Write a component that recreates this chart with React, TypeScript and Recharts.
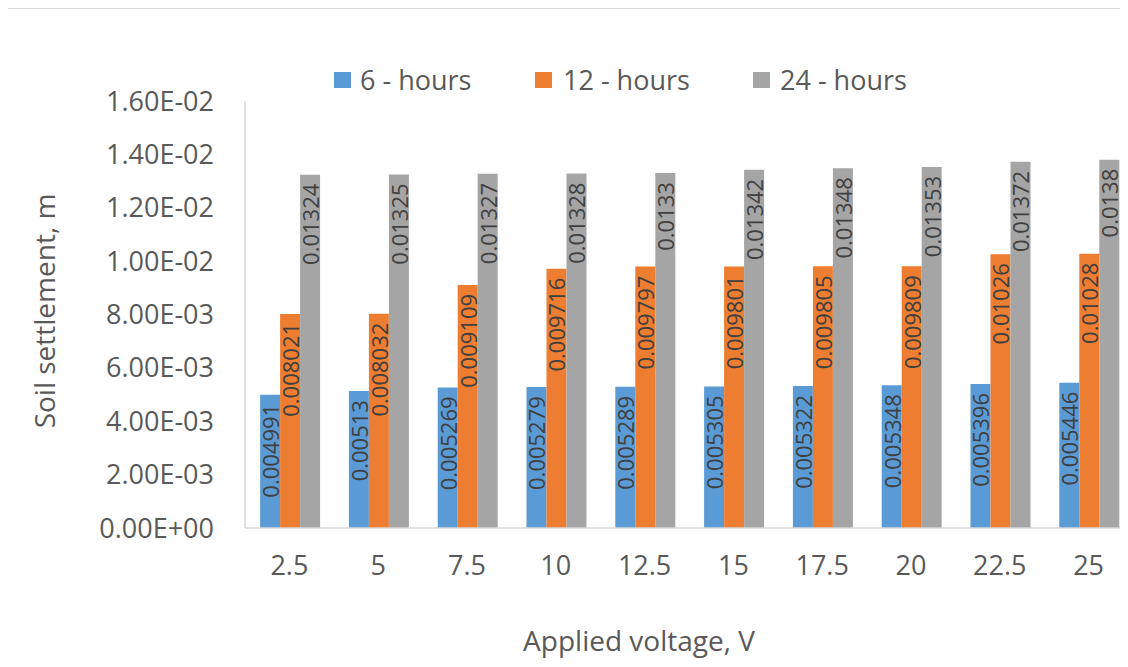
import React from "react";
import { BarChart, Bar, XAxis, YAxis, LabelList, Label } from "recharts";

const categories = ["2.5", "5", "7.5", "10", "12.5", "15", "17.5", "20", "22.5", "25"];
const hours6 = [0.004991, 0.00513, 0.005269, 0.005279, 0.005289, 0.005305, 0.005322, 0.005348, 0.005396, 0.005446];
const hours12 = [0.008021, 0.008032, 0.009109, 0.009716, 0.009797, 0.009801, 0.009805, 0.009809, 0.01026, 0.01028];
const hours24 = [0.01324, 0.01325, 0.01327, 0.01328, 0.0133, 0.01342, 0.01348, 0.01353, 0.01372, 0.0138];
const yTicks = [0, 0.002, 0.004, 0.006, 0.008, 0.01, 0.012, 0.014, 0.016];

const seriesNames = ["6 - hours", "12 - hours", "24 - hours"];
const colors = ["#5B9BD5", "#ED7D31", "#A5A5A5"];

const data = categories.map((c, i) => ({
  v: c,
  h6: hours6[i],
  h12: hours12[i],
  h24: hours24[i],
}));

const FONT = "'Open Sans', sans-serif";
const TEXT = "#595959";

function sci(v: number): string {
  if (v === 0) return "0.00E+00";
  const [m, e] = v.toExponential(2).split("e");
  const n = parseInt(e, 10);
  const sign = n < 0 ? "-" : "+";
  return `${m}E${sign}${String(Math.abs(n)).padStart(2, "0")}`;
}

const renderLabel = (props: any) => {
  const x = Number(props.x);
  const y = Number(props.y);
  const w = Number(props.width);
  const cx = x + w / 2;
  const ty = y + 9;
  return (
    <text
      x={cx}
      y={ty}
      transform={`rotate(-90, ${cx}, ${ty})`}
      textAnchor="end"
      dominantBaseline="central"
      fill="#404040"
      fontSize={22}
      fontFamily={FONT}
    >
      {String(props.value)}
    </text>
  );
};

const legendPos = [
  { sq: 334, tx: 360 },
  { sq: 535, tx: 563 },
  { sq: 753, tx: 780 },
];

export default function App() {
  return (
    <div
      style={{
        margin: "-8px 0 0 -8px",
        width: 1128,
        height: 667,
        position: "relative",
        overflow: "hidden",
        background: "#fff",
        fontFamily: FONT,
      }}
    >
      <div
        style={{
          position: "absolute",
          left: 5,
          top: 8,
          width: 1300,
          height: 800,
          border: "1px solid #D9D9D9",
          boxSizing: "border-box",
        }}
      />
      <div style={{ position: "absolute", left: 0, top: 0 }}>
        <BarChart
          width={1133}
          height={667}
          data={data}
          margin={{ top: 101, right: 0, bottom: 0, left: 0 }}
          barCategoryGap="17%"
          barGap={0}
        >
          <XAxis
            dataKey="v"
            height={139}
            tickLine={false}
            tickSize={0}
            tickMargin={28}
            axisLine={{ stroke: "#D9D9D9", strokeWidth: 1.5 }}
            tick={{ fill: TEXT, fontSize: 27, fontFamily: FONT }}
            interval={0}
          >
            <Label
              content={() => (
                <text
                  x={639}
                  y={640}
                  textAnchor="middle"
                  dominantBaseline="central"
                  fill={TEXT}
                  fontSize={28}
                  fontFamily={FONT}
                >
                  Applied voltage, V
                </text>
              )}
            />
          </XAxis>
          <YAxis
            width={245}
            domain={[0, 0.016]}
            ticks={yTicks}
            tickFormatter={sci}
            tickLine={false}
            tickSize={0}
            tickMargin={31}
            axisLine={{ stroke: "#D9D9D9", strokeWidth: 1.5 }}
            tick={{ fill: TEXT, fontSize: 27, fontFamily: FONT }}
            interval={0}
          >
            <Label
              content={() => (
                <text
                  x={44}
                  y={311}
                  transform="rotate(-90, 44, 311)"
                  textAnchor="middle"
                  dominantBaseline="central"
                  fill={TEXT}
                  fontSize={28}
                  fontFamily={FONT}
                >
                  Soil settlement, m
                </text>
              )}
            />
          </YAxis>
          <Bar dataKey="h6" name={seriesNames[0]} fill={colors[0]} isAnimationActive={false}>
            <LabelList dataKey="h6" content={renderLabel} />
          </Bar>
          <Bar dataKey="h12" name={seriesNames[1]} fill={colors[1]} isAnimationActive={false}>
            <LabelList dataKey="h12" content={renderLabel} />
          </Bar>
          <Bar dataKey="h24" name={seriesNames[2]} fill={colors[2]} isAnimationActive={false}>
            <LabelList dataKey="h24" content={renderLabel} />
          </Bar>
        </BarChart>
      </div>
      {legendPos.map((p, i) => (
        <React.Fragment key={seriesNames[i]}>
          <div
            style={{
              position: "absolute",
              left: p.sq,
              top: 72,
              width: 17,
              height: 16,
              background: colors[i],
            }}
          />
          <div
            style={{
              position: "absolute",
              left: p.tx,
              top: 60,
              height: 40,
              lineHeight: "40px",
              color: TEXT,
              fontSize: 27,
              fontFamily: FONT,
              whiteSpace: "nowrap",
            }}
          >
            {seriesNames[i]}
          </div>
        </React.Fragment>
      ))}
    </div>
  );
}
